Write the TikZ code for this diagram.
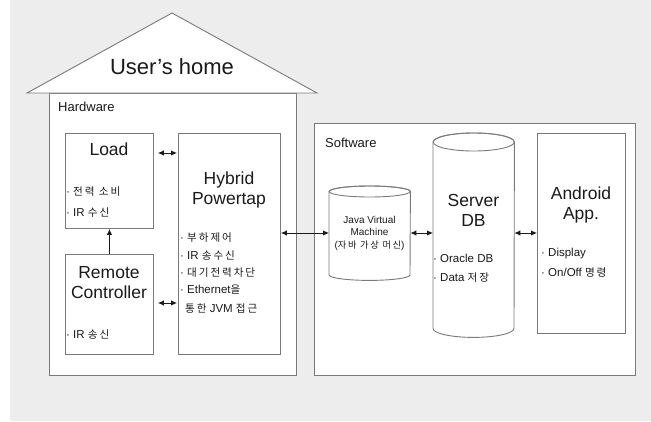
\documentclass[tikz,border=0pt]{standalone}
\usepackage{fontspec}
\setmainfont{Liberation Sans}
\newfontfamily\kr[Scale=0.92,LetterSpace=18]{Noto Sans CJK KR}
\usetikzlibrary{calc, arrows.meta}

\definecolor{bggray}{HTML}{EDEDED}
\definecolor{linegray}{HTML}{7A7A7A}
\definecolor{txt}{HTML}{1A1A1A}

% cylinder outline round an invisible node: name, x radius, y radius
\newcommand{\drawcyl}[3]{%
  \draw[linegray, fill=white, line width=0.9pt]
    ($(#1.north west)+(0,#3)$) -- ($(#1.south west)+(0,-#3)$)
    arc[start angle=180, end angle=0, x radius=#2, y radius=#3]
    -- ($(#1.north east)+(0,#3)$)
    arc[start angle=0, end angle=-180, x radius=#2, y radius=#3] -- cycle;
  \draw[linegray, line width=0.9pt] ($(#1.north)+(0,#3)$) ellipse[x radius=#2, y radius=#3];
}

\begin{document}
\begin{tikzpicture}[x=1pt,y=-1pt,
    box/.style={draw=linegray, fill=white, line width=0.9pt, anchor=north west, inner sep=0pt},
    ghost/.style={anchor=north west, inner sep=0pt},
    boxtitle/.style={font=\fontsize{17.5}{20}\selectfont, align=center, text=txt},
    item/.style={anchor=west, inner sep=0pt, font=\fontsize{11.5}{14}\selectfont, text=txt},
    twoway/.style={{Latex[length=6pt,width=5.5pt]}-{Latex[length=6pt,width=5.5pt]}, line width=0.9pt, draw=txt},
    oneway/.style={-{Latex[length=6pt,width=5.5pt]}, line width=0.9pt, draw=txt}]
  \useasboundingbox (0,0) rectangle (651,421);
  \fill[bggray] (10,0) rectangle (651,421);

  % house
  \node[box, minimum width=247pt, minimum height=282pt] (house) at (49,93) {};
  \draw[linegray, fill=white, line width=0.9pt] (27,93) -- (172,13) -- (317,93) -- cycle;
  \node[font=\fontsize{22}{26}\selectfont, text=txt] (home) at (172,67) {User’s home};
  \node[item, font=\fontsize{13}{15}\selectfont] (hw) at (58,107) {Hardware};

  \node[box, minimum width=88pt, minimum height=95pt] (load) at (65,133) {};
  \node[box, minimum width=102pt, minimum height=221pt] (hybrid) at (178,133) {};
  \node[box, minimum width=88pt, minimum height=100pt] (remote) at (65,254) {};

  \node[boxtitle] (loadT) at (109,149) {Load};
  \node[item] (load1) at (66,192) {· {\kr 전력 소비}};
  \node[item] (load2) at (66,213) {· IR {\kr 수신}};

  \node[boxtitle] (hybridT) at (229,190) {Hybrid\\Powertap};
  \node[item] (hyb1) at (180,238) {· {\kr 부하제어}};
  \node[item] (hyb2) at (180,256) {· IR {\kr 송수신}};
  \node[item] (hyb3) at (180,273) {· {\kr 대기전력차단}};
  \node[item] (hyb4) at (180,290) {· Ethernet{\kr 을}};
  \node[item] (hyb5) at (185,309) {{\kr 통한} JVM {\kr 접근}};

  \node[boxtitle] (remoteT) at (109,283) {Remote\\Controller};
  \node[item] (rem1) at (66,335) {· IR {\kr 송신}};

  % software
  \node[box, minimum width=321pt, minimum height=252pt] (soft) at (314,123) {};
  \node[item, font=\fontsize{13}{15}\selectfont] (sw) at (325,143) {Software};

  \node[ghost, minimum width=81pt, minimum height=94pt] (jvm) at (329,186) {};
  \drawcyl{jvm}{40.5}{5.5}
  \node[ghost, minimum width=81pt, minimum height=204pt] (db) at (433,133) {};
  \drawcyl{db}{40.5}{9}
  \node[box, minimum width=88pt, minimum height=200pt] (android) at (537,133) {};

  \node[align=center, text=txt, font=\fontsize{10}{12.5}\selectfont] (jvmT) at (369.5,233)
    {Java Virtual\\Machine\\({\kr 자바 가상 머신})};
  \node[boxtitle] (dbT) at (473.5,210.5) {Server\\DB};
  \node[item] (db1) at (433,258) {· Oracle DB};
  \node[item] (db2) at (433,278) {· Data {\kr 저장}};
  \node[boxtitle] (androidT) at (581,205) {Android\\App.};
  \node[item] (and1) at (541,254) {· Display};
  \node[item] (and2) at (541,273) {· On/Off {\kr 명령}};

  % connectors
  \coordinate (rowA) at (0,153);
  \coordinate (rowB) at (0,303);
  \coordinate (rowC) at (0,233);
  \draw[twoway, shorten <=4pt, shorten >=1pt] (load.east |- rowA) -- (hybrid.west |- rowA);
  \draw[twoway, shorten <=4pt, shorten >=1pt] (remote.east |- rowB) -- (hybrid.west |- rowB);
  \draw[oneway] (remote.north) -- (load.south);
  \draw[twoway] (hybrid.east |- rowC) -- (jvm.west |- rowC);
  \draw[twoway] (jvm.east |- rowC) -- (db.west |- rowC);
  \draw[twoway] (db.east |- rowC) -- (android.west |- rowC);
\end{tikzpicture}
\end{document}
